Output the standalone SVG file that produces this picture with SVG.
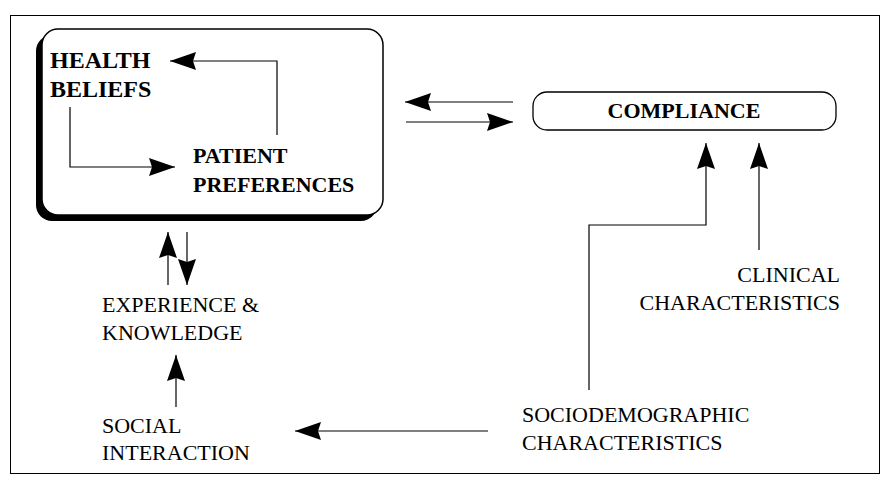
<svg xmlns="http://www.w3.org/2000/svg" width="890" height="484" viewBox="0 0 890 484">
<style>
.t{font-family:"Liberation Serif","Times New Roman",serif;font-size:22px;fill:#000}
.b{font-weight:bold}
.big{font-size:24px}
.c{fill:none;stroke:#000;stroke-width:1.2}
</style>
<defs>
<marker id="ah" viewBox="0 0 26 18" refX="26" refY="9" markerWidth="26" markerHeight="18" markerUnits="userSpaceOnUse" orient="auto">
<path d="M0,0 L26,9 L0,18 L3,9 Z" fill="#000"/>
</marker>
</defs>
<rect width="890" height="484" fill="#fff"/>
<rect x="10.5" y="15.5" width="869" height="458" fill="none" stroke="#000" stroke-width="1"/>

<g id="patient-box">
<rect x="36" y="35" width="341" height="186" rx="16" fill="#000"/>
<rect x="42" y="29" width="341" height="186" rx="16" fill="#fff" stroke="#000" stroke-width="1.5"/>
</g>
<g id="health-beliefs">
<text class="t b big" x="50" y="68">HEALTH</text>
<text class="t b big" x="50" y="97">BELIEFS</text>
</g>
<g id="patient-preferences">
<text class="t b" x="193" y="163">PATIENT</text>
<text class="t b" x="193" y="192">PREFERENCES</text>
</g>
<g id="compliance">
<rect x="533" y="92" width="303" height="38" rx="14" fill="#fff" stroke="#000" stroke-width="1.3"/>
<text class="t b" x="684" y="118" text-anchor="middle">COMPLIANCE</text>
</g>
<g id="experience">
<text class="t" x="102" y="312">EXPERIENCE &amp;</text>
<text class="t" x="102" y="340">KNOWLEDGE</text>
</g>
<g id="social">
<text class="t" x="102" y="433">SOCIAL</text>
<text class="t" x="102" y="460">INTERACTION</text>
</g>
<g id="clinical">
<text class="t" x="840" y="282" text-anchor="end">CLINICAL</text>
<text class="t" x="840" y="310" text-anchor="end">CHARACTERISTICS</text>
</g>
<g id="sociodemographic">
<text class="t" x="522" y="422">SOCIODEMOGRAPHIC</text>
<text class="t" x="522" y="450">CHARACTERISTICS</text>
</g>

<g id="connectors">
<path class="c" d="M277,135 V61 H170" marker-end="url(#ah)"/>
<path class="c" d="M70,107 V167 H175" marker-end="url(#ah)"/>
<path class="c" d="M513,102 H405" marker-end="url(#ah)"/>
<path class="c" d="M406,122 H513" marker-end="url(#ah)"/>
<path class="c" d="M589,390 V225 H706 V143" marker-end="url(#ah)"/>
<path class="c" d="M759,250 V143" marker-end="url(#ah)"/>
<path class="c" d="M168,285 V232" marker-end="url(#ah)"/>
<path class="c" d="M187,232 V285" marker-end="url(#ah)"/>
<path class="c" d="M176,407 V355" marker-end="url(#ah)"/>
<path class="c" d="M488,431 H295" marker-end="url(#ah)"/>
</g>
</svg>
